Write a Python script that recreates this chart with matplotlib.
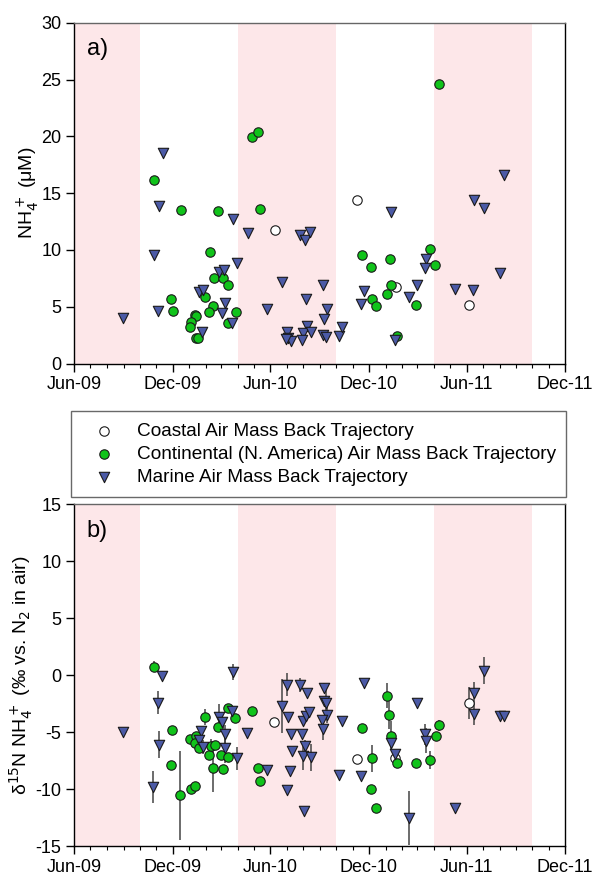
import matplotlib
matplotlib.use("Agg")
import matplotlib.pyplot as plt
import matplotlib.dates as mdates
import pandas as pd

plt.rcParams["font.family"] = ["Liberation Sans", "DejaVu Sans"]
plt.rcParams["mathtext.fontset"] = "dejavusans"
plt.rcParams["axes.unicode_minus"] = False

GREEN = "#10c31a"
BLUE = "#4b5aa6"
PINK = "#fde7e9"
EDGE = "#1a1a1a"
ERR = "#444444"

# growing seasons (Apr-Oct) shaded pink
seasons = [("2009-04-01", "2009-10-01"), ("2010-04-01", "2010-10-01"), ("2011-04-01", "2011-10-01")]

# ---- panel a: NH4+ concentration (uM) ----
a_coastal_date = ["2010-06-09", "2010-11-09", "2011-01-20", "2011-06-05"]
a_coastal_val = [11.75, 14.4, 6.75, 5.2]

a_cont_date = ["2009-10-28", "2009-12-16", "2010-02-23", "2010-04-28", "2010-05-09", "2010-05-13",
               "2010-02-09", "2010-02-17", "2010-03-05", "2010-03-14", "2009-11-29", "2009-12-01",
               "2010-01-31", "2010-02-14", "2010-02-07", "2010-03-29", "2010-01-11", "2010-01-14",
               "2010-01-05", "2010-01-03", "2010-01-13", "2010-01-18", "2010-03-15", "2011-04-10",
               "2010-11-18", "2010-12-05", "2011-01-09", "2011-01-12", "2011-01-04", "2010-12-07",
               "2010-12-15", "2011-02-27", "2011-03-25", "2011-04-03", "2011-01-23"]
a_cont_val = [16.2, 13.5, 13.4, 19.95, 20.35, 13.6,
              9.83, 7.55, 7.5, 6.9, 5.65, 4.6,
              5.88, 5.1, 4.52, 4.5, 4.3, 4.2,
              3.65, 3.2, 2.25, 2.25, 3.55, 24.65,
              9.55, 8.5, 9.2, 6.95, 6.15, 5.7,
              5.1, 5.2, 10.05, 8.7, 2.45]

a_marine_date = ["2009-08-31", "2009-11-13", "2009-11-05", "2009-10-27", "2009-11-04", "2010-01-20",
                 "2010-01-26", "2010-01-25", "2010-02-25", "2010-03-07", "2010-03-03", "2010-03-08",
                 "2010-03-23", "2010-03-22", "2010-03-30", "2010-04-20", "2010-05-25", "2010-06-23",
                 "2010-07-26", "2010-08-05", "2010-08-13", "2010-09-07", "2010-08-07", "2010-09-14",
                 "2010-09-09", "2010-08-08", "2010-07-02", "2010-07-04", "2010-07-10", "2010-06-30",
                 "2010-07-31", "2010-07-30", "2010-08-16", "2010-09-06", "2010-09-12", "2010-10-07",
                 "2010-10-13", "2011-01-11", "2010-11-22", "2010-11-16", "2011-02-13", "2011-03-01",
                 "2011-03-17", "2011-03-15", "2011-01-19", "2011-05-11", "2011-06-13", "2011-06-15",
                 "2011-07-03", "2011-08-01", "2011-08-09"]
a_marine_val = [4.0, 18.5, 13.85, 9.6, 4.6, 6.3,
                6.45, 2.8, 8.05, 8.2, 4.45, 5.3,
                12.7, 3.6, 8.85, 11.45, 4.8, 7.15,
                11.3, 10.9, 11.6, 6.95, 5.7, 4.8,
                3.9, 3.3, 2.75, 2.25, 1.96, 2.15,
                2.7, 2.1, 2.75, 2.55, 2.35, 2.45,
                3.2, 13.3, 6.35, 5.25, 5.9, 6.95,
                9.2, 8.4, 2.1, 6.6, 6.45, 14.4,
                13.7, 8.0, 16.6]

# ---- panel b: d15N-NH4+ (permil vs N2 in air), with error bars ----
b_coastal_date = ["2010-06-08", "2010-11-09", "2011-01-19", "2011-06-05"]
b_coastal_val = [-4.07, -7.34, -7.3, -2.46]
b_coastal_err = [0, 0, 0, 1.4]

b_cont_date = ["2009-10-28", "2009-11-30", "2009-11-29", "2009-12-15", "2010-01-05", "2010-01-11",
               "2010-01-02", "2010-01-13", "2010-01-12", "2010-01-19", "2010-01-31", "2010-02-07",
               "2010-02-10", "2010-02-18", "2010-02-14", "2010-02-23", "2010-03-01", "2010-03-05",
               "2010-03-15", "2010-03-14", "2010-03-28", "2010-04-28", "2010-05-09", "2010-05-13",
               "2010-11-18", "2010-12-07", "2010-12-05", "2010-12-15", "2011-01-04", "2011-01-08",
               "2011-01-11", "2011-01-23", "2011-02-27", "2011-03-24", "2011-04-04", "2011-04-10"]
b_cont_val = [0.75, -4.8, -7.87, -10.56, -9.97, -9.77,
              -5.6, -5.3, -5.96, -6.4, -3.7, -7.0,
              -6.2, -6.1, -8.13, -4.56, -7.0, -8.2,
              -7.2, -2.84, -3.8, -3.16, -8.16, -9.33,
              -4.6, -7.3, -9.97, -11.7, -1.8, -3.5,
              -5.3, -7.67, -7.72, -7.43, -5.3, -4.4]
b_cont_err = [0.5, 0, 0, 3.9, 0, 0,
              0, 0, 0, 0, 0.7, 0,
              0.6, 0, 2.1, 0, 0, 0,
              0, 0, 0, 0, 0, 0,
              0, 1.2, 0, 0, 1.1, 1.2,
              1.3, 0, 0.4, 0.8, 0, 0.5]

b_marine_date = ["2009-08-31", "2009-11-12", "2009-11-04", "2009-11-05", "2009-10-26", "2010-03-23",
                 "2010-01-23", "2010-01-20", "2010-01-26", "2010-02-25", "2010-03-03", "2010-03-08",
                 "2010-03-09", "2010-03-22", "2010-03-31", "2010-04-19", "2010-05-25", "2010-06-22",
                 "2010-07-01", "2010-07-04", "2010-07-09", "2010-07-11", "2010-07-02", "2010-07-08",
                 "2010-07-26", "2010-08-08", "2010-07-30", "2010-07-31", "2010-08-07", "2010-08-12",
                 "2010-08-05", "2010-08-01", "2010-08-16", "2010-08-02", "2010-09-09", "2010-09-08",
                 "2010-09-12", "2010-09-15", "2010-09-05", "2010-09-07", "2010-10-07", "2010-10-13",
                 "2010-11-22", "2010-11-16", "2011-01-11", "2011-01-19", "2011-03-01", "2011-03-16",
                 "2011-03-17", "2011-02-13", "2011-05-11", "2011-07-03", "2011-06-14", "2011-06-15",
                 "2011-08-01", "2011-08-09"]
b_marine_val = [-5.0, -0.1, -2.4, -6.1, -9.8, 0.3,
                -4.9, -5.7, -6.3, -3.7, -4.07, -5.2,
                -6.4, -3.13, -7.3, -5.1, -8.3, -2.7,
                -0.85, -3.7, -5.2, -6.7, -10.06, -8.45,
                -0.85, -1.6, -5.2, -4.0, -3.6, -3.2,
                -6.2, -7.1, -7.2, -11.9, -1.1, -2.3,
                -2.46, -3.5, -3.9, -4.7, -8.8, -4.05,
                -0.65, -8.83, -5.97, -6.93, -2.46, -5.2,
                -5.76, -12.55, -11.67, 0.4, -1.58, -3.4,
                -3.57, -3.57]
b_marine_err = [0, 0.3, 1.0, 1.2, 1.4, 0.7,
                0, 0, 0.6, 1.2, 0.6, 0.8,
                1.3, 0.4, 1.0, 0.3, 0.4, 2.4,
                1.0, 0, 0, 0, 0, 0,
                0.6, 0, 0, 0, 0, 0,
                0.5, 1.2, 1.2, 0, 0.4, 0,
                1.4, 0.7, 0, 1.0, 0, 0,
                0.3, 0.3, 0, 0, 0.3, 0.9,
                1.1, 2.4, 0.2, 1.2, 1.0, 1.0,
                0.3, 0.3]

CIRCLE_S = 46
TRI_S = 56


def style_axes(ax, ylim, ystep):
    for start, end in seasons:
        ax.axvspan(pd.Timestamp(start), pd.Timestamp(end), color=PINK, lw=0, zorder=0)
    ax.set_xlim(pd.Timestamp("2009-06-01"), pd.Timestamp("2011-12-01"))
    ax.set_ylim(*ylim)
    ax.set_yticks(range(ylim[0], ylim[1] + 1, ystep))
    ax.xaxis.set_major_locator(mdates.MonthLocator(bymonth=[6, 12]))
    ax.xaxis.set_minor_locator(mdates.MonthLocator())
    ax.xaxis.set_major_formatter(mdates.DateFormatter("%b-%y"))
    ax.tick_params(which="major", direction="out", length=6, width=1, labelsize=13, pad=3)
    ax.tick_params(which="minor", direction="out", length=3, width=0.8)
    for side in ax.spines.values():
        side.set_linewidth(1)
    ax.spines["top"].set_color("#666666")


def dates(values):
    return pd.to_datetime(values)


fig = plt.figure(figsize=(5.93, 8.74), dpi=100)
ax_a = fig.add_axes([0.125, 0.584, 0.828, 0.390])
ax_b = fig.add_axes([0.125, 0.032, 0.828, 0.391])

# panel a
style_axes(ax_a, (0, 30), 5)
h_coast = ax_a.scatter(dates(a_coastal_date), a_coastal_val, s=CIRCLE_S, marker="o",
                       facecolor="white", edgecolor=EDGE, linewidth=0.8, zorder=3)
h_cont = ax_a.scatter(dates(a_cont_date), a_cont_val, s=CIRCLE_S, marker="o",
                      facecolor=GREEN, edgecolor=EDGE, linewidth=0.8, zorder=4)
h_mar = ax_a.scatter(dates(a_marine_date), a_marine_val, s=TRI_S, marker="v",
                     facecolor=BLUE, edgecolor=EDGE, linewidth=0.8, zorder=5)
ax_a.set_ylabel(r"NH$_4^+$ (μM)", fontsize=14)
ax_a.yaxis.set_label_coords(-0.068, 0.5)
ax_a.text(0.026, 0.955, "a)", transform=ax_a.transAxes, fontsize=17, va="top", ha="left")

# panel b
style_axes(ax_b, (-15, 15), 5)
for d, v, e in [(b_coastal_date, b_coastal_val, b_coastal_err),
                (b_cont_date, b_cont_val, b_cont_err),
                (b_marine_date, b_marine_val, b_marine_err)]:
    ax_b.errorbar(dates(d), v, yerr=e, fmt="none", ecolor=ERR, elinewidth=1.1, capsize=0, zorder=2)
ax_b.scatter(dates(b_coastal_date), b_coastal_val, s=CIRCLE_S, marker="o",
             facecolor="white", edgecolor=EDGE, linewidth=0.8, zorder=3)
ax_b.scatter(dates(b_cont_date), b_cont_val, s=CIRCLE_S, marker="o",
             facecolor=GREEN, edgecolor=EDGE, linewidth=0.8, zorder=4)
ax_b.scatter(dates(b_marine_date), b_marine_val, s=TRI_S, marker="v",
             facecolor=BLUE, edgecolor=EDGE, linewidth=0.8, zorder=5)
ax_b.set_ylabel(r"δ$^{15}$N NH$_4^+$ (‰ vs. N$_2$ in air)", fontsize=14)
ax_b.yaxis.set_label_coords(-0.08, 0.5)
ax_b.text(0.026, 0.955, "b)", transform=ax_b.transAxes, fontsize=17, va="top", ha="left")

# shared legend between the panels
leg = fig.legend([h_coast, h_cont, h_mar],
                 ["Coastal Air Mass Back Trajectory",
                  "Continental (N. America) Air Mass Back Trajectory",
                  "Marine Air Mass Back Trajectory"],
                 loc="upper left", bbox_to_anchor=(0.120, 0.530, 0.835, 0.0), mode="expand",
                 borderaxespad=0, fontsize=13.7, frameon=True, fancybox=False,
                 handlelength=2.3, handletextpad=0.55, labelspacing=0.3, borderpad=0.6)
leg.get_frame().set_edgecolor("#444444")
leg.get_frame().set_linewidth(1)

fig.savefig("out.png", dpi=100)
